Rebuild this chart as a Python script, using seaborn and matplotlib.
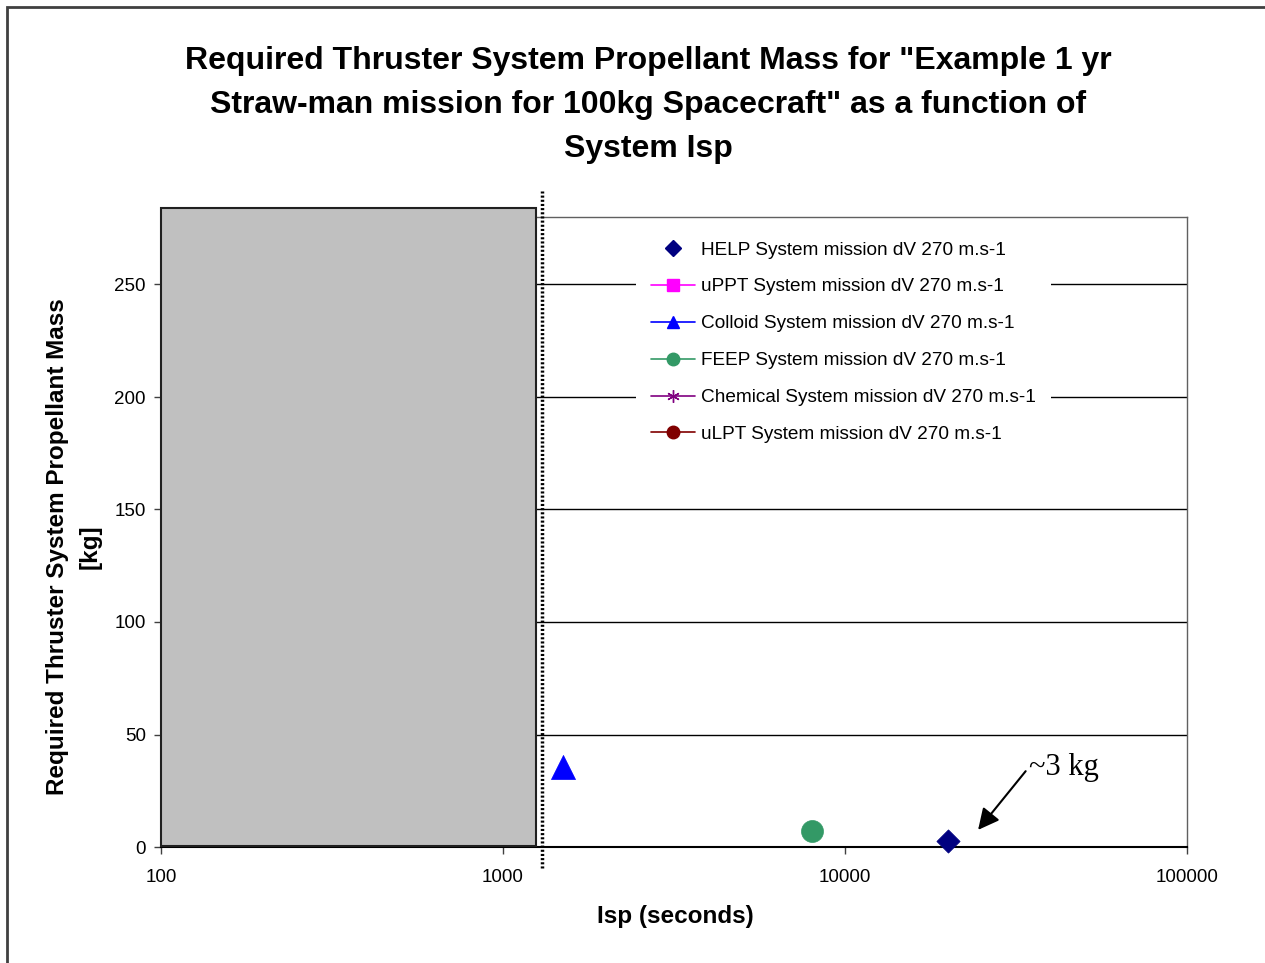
import matplotlib.pyplot as plt
import matplotlib.patches as mpatches
from matplotlib.lines import Line2D
import pandas as pd
import seaborn as sns

# data
systems = ['HELP', 'Colloid', 'FEEP']
isp_values = [20000, 1500, 8000]
mass_values = [2.7, 35.5, 7.0]

legend_labels = ['HELP System mission dV 270 m.s-1',
                 'uPPT System mission dV 270 m.s-1',
                 'Colloid System mission dV 270 m.s-1',
                 'FEEP System mission dV 270 m.s-1',
                 'Chemical System mission dV 270 m.s-1',
                 'uLPT System mission dV 270 m.s-1']
legend_keys = ['HELP', 'uPPT', 'Colloid', 'FEEP', 'Chemical', 'uLPT']

x_ticks = [100, 1000, 10000, 100000]
y_ticks = [0, 50, 100, 150, 200, 250]

# grey "excluded" region and limit line
region_isp = [100, 1250]
region_mass = [0.5, 284]
limit_isp = 1300

title_lines = ['Required Thruster System Propellant Mass for "Example 1 yr',
               'Straw-man mission for 100kg Spacecraft" as a function of',
               'System Isp']

colors = {'HELP': '#000080', 'uPPT': '#FF00FF', 'Colloid': '#0000FF',
          'FEEP': '#339966', 'Chemical': '#800080', 'uLPT': '#800000'}
markers = {'HELP': 'D', 'uPPT': 's', 'Colloid': '^', 'FEEP': 'o',
           'Chemical': (6, 2, 0), 'uLPT': 'o'}
sizes = {'HELP': 140, 'Colloid': 300, 'FEEP': 250}

sns.set_style('white')
plt.rcParams['font.family'] = ['Liberation Sans', 'DejaVu Sans']
plt.rcParams['text.color'] = 'black'
plt.rcParams['xtick.color'] = 'black'
plt.rcParams['ytick.color'] = 'black'

df = pd.DataFrame({'system': systems, 'isp': isp_values, 'mass': mass_values})

fig = plt.figure(figsize=(12.65, 9.63), dpi=100)
ax = fig.add_axes([161 / 1265, 116 / 963, 1026 / 1265, 630 / 963])

# outer frame
fig.patches.append(mpatches.Rectangle((7 / 1265, -0.1), 1.2, 1.1 - 7 / 963,
                                      transform=fig.transFigure, fill=False,
                                      edgecolor='#404040', linewidth=2))

ax.set_xscale('log')
ax.set_xlim(100, 100000)
ax.set_ylim(0, 280)

for y in y_ticks[1:]:
    ax.axhline(y, color='black', linewidth=1, zorder=1)

ax.add_patch(mpatches.Rectangle((region_isp[0], region_mass[0]),
                                region_isp[1] - region_isp[0],
                                region_mass[1] - region_mass[0],
                                facecolor='#C0C0C0', edgecolor='#202020',
                                linewidth=1.5, clip_on=False, zorder=3))
ax.plot([limit_isp, limit_isp], [-9.5, 291.5], color='black', linewidth=2.5,
        linestyle=(0, (0.6, 0.6)), clip_on=False, zorder=4)

for name in systems:
    sub = df[df['system'] == name]
    sns.scatterplot(data=sub, x='isp', y='mass', color=colors[name],
                    marker=markers[name], s=sizes[name], edgecolor=colors[name],
                    linewidth=0.5, ax=ax, legend=False, zorder=5, clip_on=False)

ax.annotate('~3 kg', xy=(24500, 7.6), xytext=(34500, 35.5),
            fontsize=22, family='Liberation Serif', ha='left', va='center',
            arrowprops=dict(arrowstyle='-|>', color='black', lw=1.5,
                            mutation_scale=32, shrinkA=0, shrinkB=0,
                            relpos=(0, 0.5)))

ax.set_xticks(x_ticks)
ax.set_xticklabels([str(t) for t in x_ticks])
ax.minorticks_off()
ax.set_yticks(y_ticks)
ax.tick_params(axis='both', labelsize=13.5, length=5, width=1, color='#404040',
               direction='out', bottom=True, left=True)
ax.tick_params(axis='x', pad=11)
ax.tick_params(axis='y', pad=6)
ax.set_xlabel('')
ax.set_ylabel('')

for side in ['top', 'right']:
    ax.spines[side].set_color('#606060')
    ax.spines[side].set_linewidth(1)
ax.spines['bottom'].set_color('black')
ax.spines['bottom'].set_linewidth(1.5)
ax.spines['left'].set_visible(False)

handles = []
for key in legend_keys:
    handles.append(Line2D([], [], color=colors[key], marker=markers[key],
                          markersize=9 if key != 'HELP' else 8,
                          linestyle='none' if key == 'HELP' else '-',
                          linewidth=1.2, markeredgecolor=colors[key]))
leg = ax.legend(handles, legend_labels, loc='upper left',
                bbox_to_anchor=(636 / 1265, 1 - 226 / 963),
                bbox_transform=fig.transFigure, borderaxespad=0,
                fontsize=13.7, frameon=True, facecolor='white', edgecolor='none',
                framealpha=1, fancybox=False, borderpad=0.8, handlelength=2.3,
                handletextpad=0.3, labelspacing=1.03)
leg.set_zorder(6)

for i, line in enumerate(title_lines):
    fig.text(648 / 1265, 1 - (61 + 44 * i) / 963, line, ha='center', va='center',
             fontsize=23, fontweight='bold')

fig.text(675 / 1265, 1 - 916 / 963, 'Isp (seconds)', ha='center', va='center',
         fontsize=17.5, fontweight='bold')
fig.text(74 / 1265, 1 - 547 / 963, 'Required Thruster System Propellant Mass\n[kg]',
         ha='center', va='center', rotation=90, fontsize=17.5, fontweight='bold',
         linespacing=1.5)

fig.savefig('out.png', dpi=100)
